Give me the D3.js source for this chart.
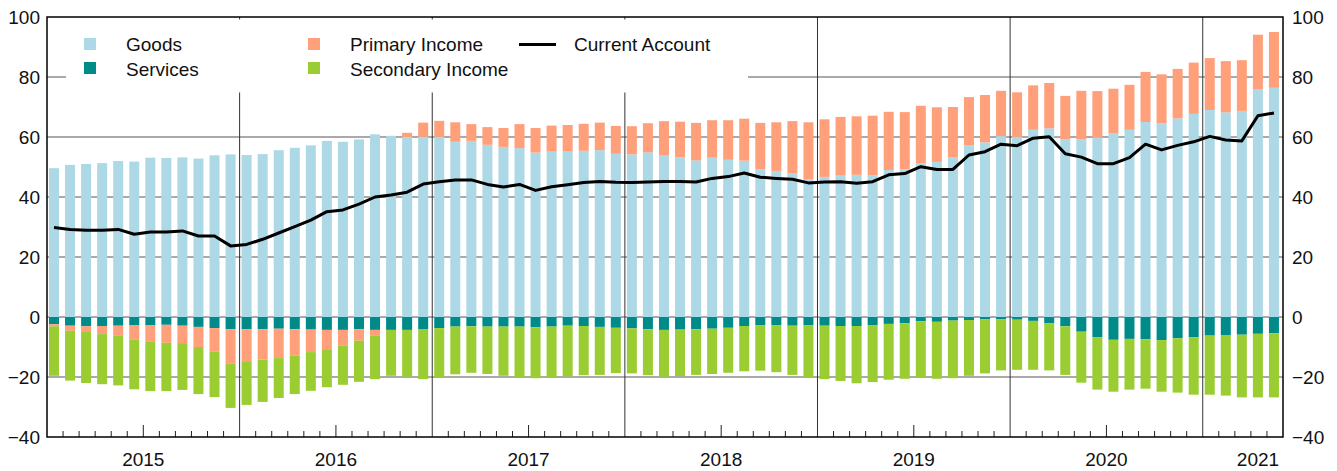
<!DOCTYPE html>
<html>
<head>
<meta charset="utf-8">
<script src="https://cdn.jsdelivr.net/npm/d3@7"></script>
<style>
    body { margin: 0; background: white; }
    text { font-family: Arial, "Liberation Sans", sans-serif; font-size: 19px; fill: #111; }
</style>
</head>
<body>
<div class="container"></div>
<script>

// Monthly data, Jan 2015 - May 2021
const years = [2015, 2016, 2017, 2018, 2019, 2020, 2021]

const goods = [
    49.6, 50.7, 51.0, 51.3, 52.0, 51.8, 53.1, 53.0, 53.2, 52.8, 53.9, 54.2,
    54.0, 54.3, 55.6, 56.4, 57.2, 58.7, 58.4, 59.2, 60.9, 60.4, 60.0, 60.1,
    60.1, 58.4, 58.7, 57.4, 56.7, 56.3, 54.8, 55.1, 55.3, 55.4, 55.6, 54.4,
    54.2, 54.9, 53.8, 53.2, 52.2, 53.1, 52.4, 52.1, 49.3, 48.7, 48.0, 46.0,
    46.7, 47.1, 47.4, 47.2, 49.0, 49.2, 51.2, 51.7, 53.3, 57.3, 58.2, 60.3,
    60.1, 62.4, 62.9, 59.2, 59.3, 59.9, 61.3, 62.4, 65.0, 64.6, 66.2, 67.7,
    69.0, 68.2, 68.7, 76.0, 76.4
]

const services = [
    -2.4, -2.9, -3.1, -3.0, -2.9, -2.8, -2.8, -2.6, -2.9, -3.3, -3.7, -4.1,
    -4.1, -4.1, -3.9, -4.1, -4.2, -4.3, -4.3, -4.1, -4.3, -4.3, -4.3, -4.0,
    -3.7, -3.2, -3.1, -3.2, -3.2, -3.2, -3.4, -3.2, -2.9, -3.0, -3.3, -3.6,
    -3.8, -4.1, -4.3, -4.2, -4.1, -3.9, -3.6, -3.0, -2.7, -2.7, -2.9, -2.8,
    -2.9, -3.0, -3.0, -2.7, -2.3, -2.1, -1.4, -1.6, -1.2, -1.0, -0.8, -0.7,
    -0.9, -1.3, -2.1, -3.1, -4.9, -6.7, -7.6, -7.3, -7.4, -7.7, -7.1, -6.8,
    -6.2, -6.0, -5.9, -5.6, -5.4
]

const primaryIncome = [
    -0.7, -1.7, -1.9, -2.7, -3.2, -4.8, -5.5, -6.0, -5.8, -6.7, -7.9, -11.5,
    -10.9, -10.1, -9.8, -8.7, -7.5, -6.7, -5.3, -3.8, -2.0, 0.0, 1.4, 4.7,
    5.3, 6.5, 5.6, 5.9, 6.3, 8.0, 8.2, 8.7, 8.7, 9.0, 9.2, 9.3,
    9.4, 9.7, 11.5, 11.9, 12.5, 12.5, 13.2, 14.0, 15.4, 16.2, 17.3, 18.9,
    19.2, 19.6, 19.5, 19.9, 19.4, 19.1, 19.2, 18.2, 16.7, 16.0, 15.8, 15.1,
    14.8, 14.8, 15.1, 14.5, 16.1, 15.4, 14.8, 15.0, 16.7, 16.3, 16.5, 17.1,
    17.3, 17.1, 16.9, 18.1, 18.6
]

const secondaryIncome = [
    -16.5, -16.6, -17.0, -16.7, -16.7, -16.5, -16.4, -16.1, -15.6, -15.7, -15.1, -14.7,
    -14.3, -14.1, -13.3, -12.9, -12.9, -12.4, -13.0, -13.7, -14.4, -15.3, -15.6, -16.7,
    -16.3, -15.9, -15.5, -15.8, -16.4, -16.9, -17.0, -16.9, -16.9, -16.4, -16.0, -15.1,
    -15.0, -15.3, -15.6, -15.5, -15.2, -15.1, -15.0, -15.1, -15.2, -15.7, -16.4, -17.3,
    -17.8, -18.3, -19.1, -19.0, -18.6, -18.5, -18.7, -19.0, -19.2, -18.6, -18.0, -17.1,
    -16.7, -16.3, -15.7, -16.2, -17.0, -17.5, -17.3, -16.9, -16.5, -17.2, -18.1, -19.1,
    -19.7, -20.2, -20.9, -21.2, -21.4
]

const currentAccount = [
    29.8, 29.2, 28.9, 28.9, 29.2, 27.6, 28.3, 28.3, 28.7, 27.0, 27.0, 23.7,
    24.2, 25.9, 28.0, 30.1, 32.3, 35.1, 35.7, 37.6, 40.0, 40.7, 41.6, 44.3,
    45.1, 45.7, 45.7, 44.2, 43.3, 44.2, 42.2, 43.4, 44.1, 44.8, 45.2, 44.9,
    44.8, 45.0, 45.2, 45.2, 45.0, 46.2, 46.8, 48.0, 46.6, 46.2, 45.9, 44.7,
    45.0, 45.1, 44.6, 45.1, 47.4, 47.8, 50.1, 49.2, 49.2, 54.0, 55.1, 57.6,
    57.1, 59.6, 60.1, 54.4, 53.3, 51.1, 51.1, 53.1, 57.6, 55.7, 57.2, 58.4,
    60.2, 59.0, 58.7, 67.1, 68.0
]

const yTicks = [-40, -20, 0, 20, 40, 60, 80, 100]
const seriesNames = ["Goods", "Services", "Primary Income", "Secondary Income"]
const seriesColors = ["#add8e6", "#008b8b", "#ffa07a", "#9acd32"]

// Create SVG
let outerWidth = 1337
let outerHeight = 471
let margin = {top: 17, bottom: 34, left: 47, right: 54}
let width = outerWidth - margin.left - margin.right
let height = outerHeight - margin.top - margin.bottom

const root = d3.select(".container")
    .append("svg")
    .attr("width", outerWidth)
    .attr("height", outerHeight)

const svg = root.append("g")
    .attr("transform", `translate(${margin.left}, ${margin.top})`)

const nMonths = goods.length

// Scales: x by month index, one unit per month
const x = d3.scaleLinear()
    .domain([0, nMonths])
    .range([0, width])

const y = d3.scaleLinear()
    .domain([-40, 100])
    .range([height, 0])

const color = d3.scaleOrdinal()
    .domain(seriesNames)
    .range(seriesColors)

// Table for stacking
const rows = goods.map((g, i) => ({
    i: i,
    "Goods": g,
    "Services": services[i],
    "Primary Income": primaryIncome[i],
    "Secondary Income": secondaryIncome[i]
}))

const stacked = d3.stack()
    .keys(seriesNames)
    .offset(d3.stackOffsetDiverging)(rows)

// Horizontal grid lines
svg.append("g")
    .selectAll("line")
    .data(yTicks.filter(t => t > -40 && t < 100))
    .join("line")
    .attr("x1", 0)
    .attr("x2", width)
    .attr("y1", d => y(d))
    .attr("y2", d => y(d))
    .attr("stroke", "#555")
    .attr("stroke-width", 1)

// Bars
const barW = 10
svg.append("g")
    .selectAll("g")
    .data(stacked)
    .join("g")
    .attr("fill", d => color(d.key))
    .selectAll("rect")
    .data(d => d)
    .join("rect")
    .attr("x", d => x(d.data.i) + 2)
    .attr("width", barW)
    .attr("y", d => y(Math.max(d[0], d[1])))
    .attr("height", d => Math.abs(y(d[0]) - y(d[1])))

// Year separators
const yearStarts = d3.range(12, nMonths, 12)
svg.append("g")
    .selectAll("line")
    .data(yearStarts)
    .join("line")
    .attr("x1", d => x(d))
    .attr("x2", d => x(d))
    .attr("y1", 0)
    .attr("y2", height)
    .attr("stroke", "#333")
    .attr("stroke-width", 1)

// Current account line
const line = d3.line()
    .x((d, i) => x(i) + 7)
    .y(d => y(d))

svg.append("path")
    .datum(currentAccount)
    .attr("d", line)
    .attr("fill", "none")
    .attr("stroke", "black")
    .attr("stroke-width", 3)
    .attr("stroke-linejoin", "round")

// Month ticks along the bottom, pointing inside
const monthTicks = d3.range(1, nMonths).filter(i => i % 12 !== 0)
svg.append("g")
    .selectAll("line")
    .data(monthTicks)
    .join("line")
    .attr("x1", d => x(d))
    .attr("x2", d => x(d))
    .attr("y1", height)
    .attr("y2", d => height - (d % 12 === 6 ? 12 : 6))
    .attr("stroke", "#222")
    .attr("stroke-width", 1)

// Frame
svg.append("rect")
    .attr("x", 0)
    .attr("y", 0)
    .attr("width", width)
    .attr("height", height)
    .attr("fill", "none")
    .attr("stroke", "black")
    .attr("stroke-width", 1.5)

// Y labels, both sides
svg.append("g")
    .selectAll("text")
    .data(yTicks)
    .join("text")
    .attr("x", -7)
    .attr("y", d => y(d))
    .attr("dy", "0.35em")
    .attr("text-anchor", "end")
    .text(d => d3.format("d")(d))

svg.append("g")
    .selectAll("text")
    .data(yTicks)
    .join("text")
    .attr("x", width + 9)
    .attr("y", d => y(d))
    .attr("dy", "0.35em")
    .attr("text-anchor", "start")
    .text(d => d3.format("d")(d))

// Year labels, centred on mid-year and kept inside the frame
svg.append("g")
    .selectAll("text")
    .data(years)
    .join("text")
    .attr("x", (d, i) => Math.min(x(i * 12 + 6), width - 25))
    .attr("y", height + 29)
    .attr("text-anchor", "middle")
    .text(d => d)

// Legend
const legend = root.append("g")

legend.append("rect")
    .attr("x", 66)
    .attr("y", 19.5)
    .attr("width", 682)
    .attr("height", 73)
    .attr("fill", "white")

const legendItems = [
    {name: "Goods", col: 0, row: 0},
    {name: "Services", col: 0, row: 1},
    {name: "Primary Income", col: 1, row: 0},
    {name: "Secondary Income", col: 1, row: 1}
]
const colX = [84, 308]

legend.selectAll(".sw")
    .data(legendItems)
    .join("rect")
    .attr("class", "sw")
    .attr("x", d => colX[d.col])
    .attr("y", d => 38 + d.row * 24)
    .attr("width", 12)
    .attr("height", 12)
    .attr("fill", d => color(d.name))

legend.selectAll(".lt")
    .data(legendItems)
    .join("text")
    .attr("class", "lt")
    .attr("x", d => colX[d.col] + 42)
    .attr("y", d => 51 + d.row * 24.5)
    .text(d => d.name)

legend.append("line")
    .attr("x1", 519)
    .attr("x2", 556)
    .attr("y1", 44.5)
    .attr("y2", 44.5)
    .attr("stroke", "black")
    .attr("stroke-width", 3)

legend.append("text")
    .attr("x", 574)
    .attr("y", 51)
    .text("Current Account")

</script>
</body>
</html>
